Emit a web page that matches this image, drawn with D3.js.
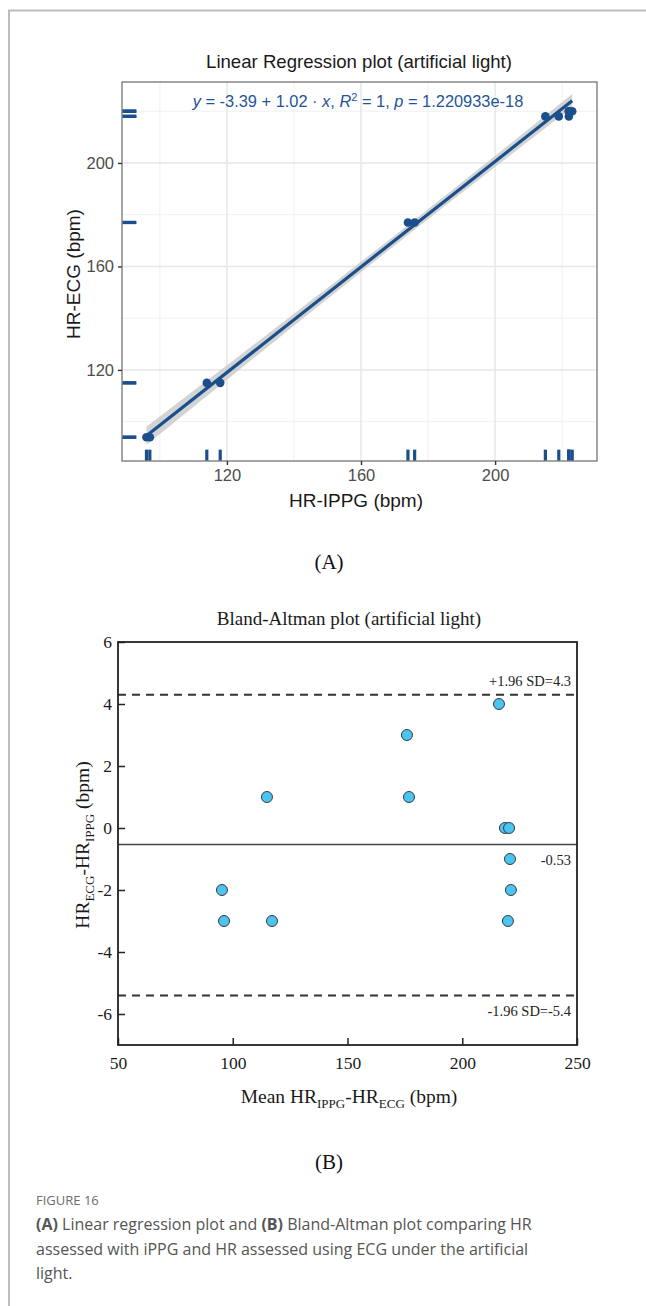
<!DOCTYPE html>
<html>
<head>
<meta charset="utf-8">
<script src="https://cdn.jsdelivr.net/npm/d3@7"></script>
<style>
  html, body { margin: 0; padding: 0; background: #fff; }
  svg { display: block; }
</style>
</head>
<body>
<svg id="fig" width="646" height="1306"></svg>
<script>
// ---- Panel A: paired heart-rate readings (bpm) ----
const hrIppg = [96, 97, 114, 118, 174, 176, 215, 219, 222, 222, 223, 222];
const hrEcg  = [94, 94, 115, 115, 177, 177, 218, 218, 220, 220, 220, 218];
const fitIntercept = -3.39;
const fitSlope = 1.02;
const regXTicks = [120, 160, 200];
const regYTicks = [120, 160, 200];
const regXMinor = [100, 140, 180, 220];
const regYMinor = [100, 140, 180, 220];

// ---- Panel B: Bland-Altman values ----
const baMean = [95.3, 96.2, 114.9, 117.1, 175.9, 176.8, 216, 218.6, 220.4, 220.8, 221.2, 219.9];
const baDiff = [-2, -3, 1, -3, 3, 1, 4, 0, 0, -1, -2, -3];
const baBias = -0.53;
const baUpper = 4.3;
const baLower = -5.4;
const baXTicks = [50, 100, 150, 200, 250];
const baYTicks = [-6, -4, -2, 0, 2, 4, 6];

const svg = d3.select("#fig");
const blue = "#1b4f8c";

// page frame
svg.append("line").attr("x1", 8).attr("x2", 646).attr("y1", 10.5).attr("y2", 10.5)
  .attr("stroke", "#bdbdbd").attr("stroke-width", 2);
svg.append("line").attr("x1", 9).attr("x2", 9).attr("y1", 10).attr("y2", 1306)
  .attr("stroke", "#bdbdbd").attr("stroke-width", 2);

// ================= Panel A =================
const A = { l: 122, r: 597, t: 82, b: 461 };
const xA = d3.scaleLinear().domain([88.7, 230.4]).range([A.l, A.r]);
const yA = d3.scaleLinear().domain([84.8, 231.3]).range([A.b, A.t]);
const gA = svg.append("g");
const sans = "'Liberation Sans', Arial, sans-serif";

// grid
gA.selectAll(".vminor").data(regXMinor).join("line")
  .attr("x1", d => xA(d)).attr("x2", d => xA(d)).attr("y1", A.t).attr("y2", A.b)
  .attr("stroke", "#f0f0f0").attr("stroke-width", 1);
gA.selectAll(".hminor").data(regYMinor).join("line")
  .attr("y1", d => yA(d)).attr("y2", d => yA(d)).attr("x1", A.l).attr("x2", A.r)
  .attr("stroke", "#f0f0f0").attr("stroke-width", 1);
gA.selectAll(".vmajor").data(regXTicks).join("line")
  .attr("x1", d => xA(d)).attr("x2", d => xA(d)).attr("y1", A.t).attr("y2", A.b)
  .attr("stroke", "#e6e6e6").attr("stroke-width", 1.4);
gA.selectAll(".hmajor").data(regYTicks).join("line")
  .attr("y1", d => yA(d)).attr("y2", d => yA(d)).attr("x1", A.l).attr("x2", A.r)
  .attr("stroke", "#e6e6e6").attr("stroke-width", 1.4);

// confidence band of the fitted line
const n = hrIppg.length;
const xbar = d3.mean(hrIppg);
const sxx = d3.sum(hrIppg, v => (v - xbar) ** 2);
const resid = hrIppg.map((v, i) => hrEcg[i] - (fitIntercept + fitSlope * v));
const s = Math.sqrt(d3.sum(resid, r => r * r) / (n - 2));
const tCrit = 2.228;
const [xMin, xMax] = d3.extent(hrIppg);
const bandX = d3.range(0, 41).map(k => xMin + (xMax - xMin) * k / 40);
const band = bandX.map(x => {
  const yh = fitIntercept + fitSlope * x;
  const se = s * Math.sqrt(1 / n + (x - xbar) ** 2 / sxx);
  return { x, lo: yh - tCrit * se, hi: yh + tCrit * se };
});
gA.append("path").datum(band)
  .attr("d", d3.area().x(d => xA(d.x)).y0(d => yA(d.lo)).y1(d => yA(d.hi)))
  .attr("fill", "#c8c8c8").attr("opacity", 0.8);

// fitted line
gA.append("line")
  .attr("x1", xA(xMin)).attr("y1", yA(fitIntercept + fitSlope * xMin))
  .attr("x2", xA(xMax)).attr("y2", yA(fitIntercept + fitSlope * xMax))
  .attr("stroke", blue).attr("stroke-width", 3.2);

// points
gA.selectAll(".pt").data(hrIppg).join("circle")
  .attr("cx", d => xA(d)).attr("cy", (d, i) => yA(hrEcg[i])).attr("r", 4.3)
  .attr("fill", blue);

// rugs
const rugLenX = (A.b - A.t) * 0.03;
const rugLenY = (A.r - A.l) * 0.03;
gA.selectAll(".rugx").data(hrIppg).join("line")
  .attr("x1", d => xA(d)).attr("x2", d => xA(d)).attr("y1", A.b).attr("y2", A.b - rugLenX)
  .attr("stroke", blue).attr("stroke-width", 3.2);
gA.selectAll(".rugy").data(hrEcg).join("line")
  .attr("y1", d => yA(d)).attr("y2", d => yA(d)).attr("x1", A.l).attr("x2", A.l + rugLenY)
  .attr("stroke", blue).attr("stroke-width", 3.2);

// panel border
gA.append("rect").attr("x", A.l).attr("y", A.t).attr("width", A.r - A.l).attr("height", A.b - A.t)
  .attr("fill", "none").attr("stroke", "#7f7f7f").attr("stroke-width", 1.4);

// axes
const axAx = gA.append("g").attr("transform", `translate(0,${A.b})`)
  .call(d3.axisBottom(xA).tickValues(regXTicks).tickSize(4).tickPadding(4));
const axAy = gA.append("g").attr("transform", `translate(${A.l},0)`)
  .call(d3.axisLeft(yA).tickValues(regYTicks).tickSize(4).tickPadding(4));
[axAx, axAy].forEach(ax => {
  ax.select(".domain").remove();
  ax.selectAll(".tick line").attr("stroke", "#333").attr("stroke-width", 1.4);
  ax.selectAll(".tick text").attr("fill", "#4d4d4d").attr("font-family", sans).attr("font-size", 16.5);
});

// titles
gA.append("text").attr("x", 359).attr("y", 68).attr("text-anchor", "middle")
  .attr("font-family", sans).attr("font-size", 18.6).attr("fill", "#1a1a1a")
  .text("Linear Regression plot (artificial light)");
gA.append("text").attr("x", 356).attr("y", 507).attr("text-anchor", "middle")
  .attr("font-family", sans).attr("font-size", 19).attr("fill", "#1a1a1a")
  .text("HR-IPPG (bpm)");
gA.append("text").attr("transform", "translate(80,274) rotate(-90)").attr("text-anchor", "middle")
  .attr("font-family", sans).attr("font-size", 19).attr("fill", "#1a1a1a")
  .text("HR-ECG (bpm)");

// regression equation
const eq = gA.append("text").attr("x", 358).attr("y", 107).attr("text-anchor", "middle")
  .attr("font-family", sans).attr("font-size", 16.4).attr("fill", "#1f5596");
eq.append("tspan").attr("font-style", "italic").text("y");
eq.append("tspan").text(` = ${fitIntercept} + ${fitSlope} \u00b7 `);
eq.append("tspan").attr("font-style", "italic").text("x");
eq.append("tspan").text(",  ");
eq.append("tspan").attr("font-style", "italic").text("R");
eq.append("tspan").attr("dy", -6).attr("font-size", 11).text("2");
eq.append("tspan").attr("dy", 6).text(" = 1,  ");
eq.append("tspan").attr("font-style", "italic").text("p");
eq.append("tspan").text(" = 1.220933e-18");

// ================= Panel B =================
const serif = "'Liberation Serif', 'Times New Roman', serif";
const B = { l: 118, r: 577, t: 642, b: 1045 };
const xB = d3.scaleLinear().domain([50, 250]).range([B.l, B.r]);
const yB = d3.scaleLinear().domain([-7, 6]).range([B.b, B.t]);
const gB = svg.append("g");

// limits of agreement and bias
[baUpper, baLower].forEach(v => {
  gB.append("line").attr("x1", B.l).attr("x2", B.r).attr("y1", yB(v)).attr("y2", yB(v))
    .attr("stroke", "#333").attr("stroke-width", 2).attr("stroke-dasharray", "8,6");
});
gB.append("line").attr("x1", B.l).attr("x2", B.r).attr("y1", yB(baBias)).attr("y2", yB(baBias))
  .attr("stroke", "#444").attr("stroke-width", 1.6);

// points
gB.selectAll(".ba").data(baMean).join("circle")
  .attr("cx", d => xB(d)).attr("cy", (d, i) => yB(baDiff[i])).attr("r", 5.5)
  .attr("fill", "#4cc4f2").attr("stroke", "#3a3a3a").attr("stroke-width", 1);

// frame
gB.append("rect").attr("x", B.l).attr("y", B.t).attr("width", B.r - B.l).attr("height", B.b - B.t)
  .attr("fill", "none").attr("stroke", "#222").attr("stroke-width", 1.8);

// axes with inward ticks
const fmt = d => String(d);
const axBx = gB.append("g").attr("transform", `translate(0,${B.b})`)
  .call(d3.axisBottom(xB).tickValues(baXTicks).tickFormat(fmt).tickSize(-7).tickPadding(12));
const axBy = gB.append("g").attr("transform", `translate(${B.l},0)`)
  .call(d3.axisLeft(yB).tickValues(baYTicks).tickFormat(fmt).tickSize(-7).tickPadding(6));
[axBx, axBy].forEach(ax => {
  ax.select(".domain").remove();
  ax.selectAll(".tick line").attr("stroke", "#222").attr("stroke-width", 1.5);
  ax.selectAll(".tick text").attr("fill", "#1a1a1a").attr("font-family", serif).attr("font-size", 17.5);
});

// line labels
const lab = (txt, y) => gB.append("text").attr("x", 571).attr("y", y).attr("text-anchor", "end")
  .attr("font-family", serif).attr("font-size", 14.5).attr("fill", "#222").text(txt);
lab("+1.96 SD=4.3", yB(baUpper) - 9);
lab(String(baBias), yB(baBias) + 21);
lab("-1.96 SD=-5.4", yB(baLower) + 21);

// titles
gB.append("text").attr("x", 349).attr("y", 625).attr("text-anchor", "middle")
  .attr("font-family", serif).attr("font-size", 19).attr("fill", "#1a1a1a")
  .text("Bland-Altman plot (artificial light)");

const xl = gB.append("text").attr("x", 349).attr("y", 1103).attr("text-anchor", "middle")
  .attr("font-family", serif).attr("font-size", 19.5).attr("fill", "#1a1a1a");
xl.append("tspan").text("Mean HR");
xl.append("tspan").attr("dy", 5).attr("font-size", 13).text("IPPG");
xl.append("tspan").attr("dy", -5).text("-HR");
xl.append("tspan").attr("dy", 5).attr("font-size", 13).text("ECG");
xl.append("tspan").attr("dy", -5).text(" (bpm)");

const yl = gB.append("text").attr("transform", "translate(89,845) rotate(-90)").attr("text-anchor", "middle")
  .attr("font-family", serif).attr("font-size", 19.5).attr("fill", "#1a1a1a");
yl.append("tspan").text("HR");
yl.append("tspan").attr("dy", 5).attr("font-size", 13).text("ECG");
yl.append("tspan").attr("dy", -5).text("-HR");
yl.append("tspan").attr("dy", 5).attr("font-size", 13).text("IPPG");
yl.append("tspan").attr("dy", -5).text(" (bpm)");

// panel letters
svg.append("text").attr("x", 329).attr("y", 569).attr("text-anchor", "middle")
  .attr("font-family", serif).attr("font-size", 21).attr("fill", "#111").text("(A)");
svg.append("text").attr("x", 329).attr("y", 1169).attr("text-anchor", "middle")
  .attr("font-family", serif).attr("font-size", 21).attr("fill", "#111").text("(B)");

// caption
const capFont = "'Open Sans', 'Noto Sans', sans-serif";
svg.append("text").attr("x", 36).attr("y", 1205)
  .attr("font-family", capFont).attr("font-size", 13).attr("fill", "#6b6b6b")
  .text("FIGURE 16");
const capLines = [
  [["(A)", true], [" Linear regression plot and ", false], ["(B)", true], [" Bland-Altman plot comparing HR", false]],
  [["assessed with iPPG and HR assessed using ECG under the artificial", false]],
  [["light.", false]]
];
capLines.forEach((parts, i) => {
  const t = svg.append("text").attr("x", 36).attr("y", 1230 + i * 24.5)
    .attr("font-family", capFont).attr("font-size", 16).attr("fill", "#555");
  parts.forEach(([s, b]) => t.append("tspan").attr("font-weight", b ? 700 : 400).text(s));
});
</script>
</body>
</html>
